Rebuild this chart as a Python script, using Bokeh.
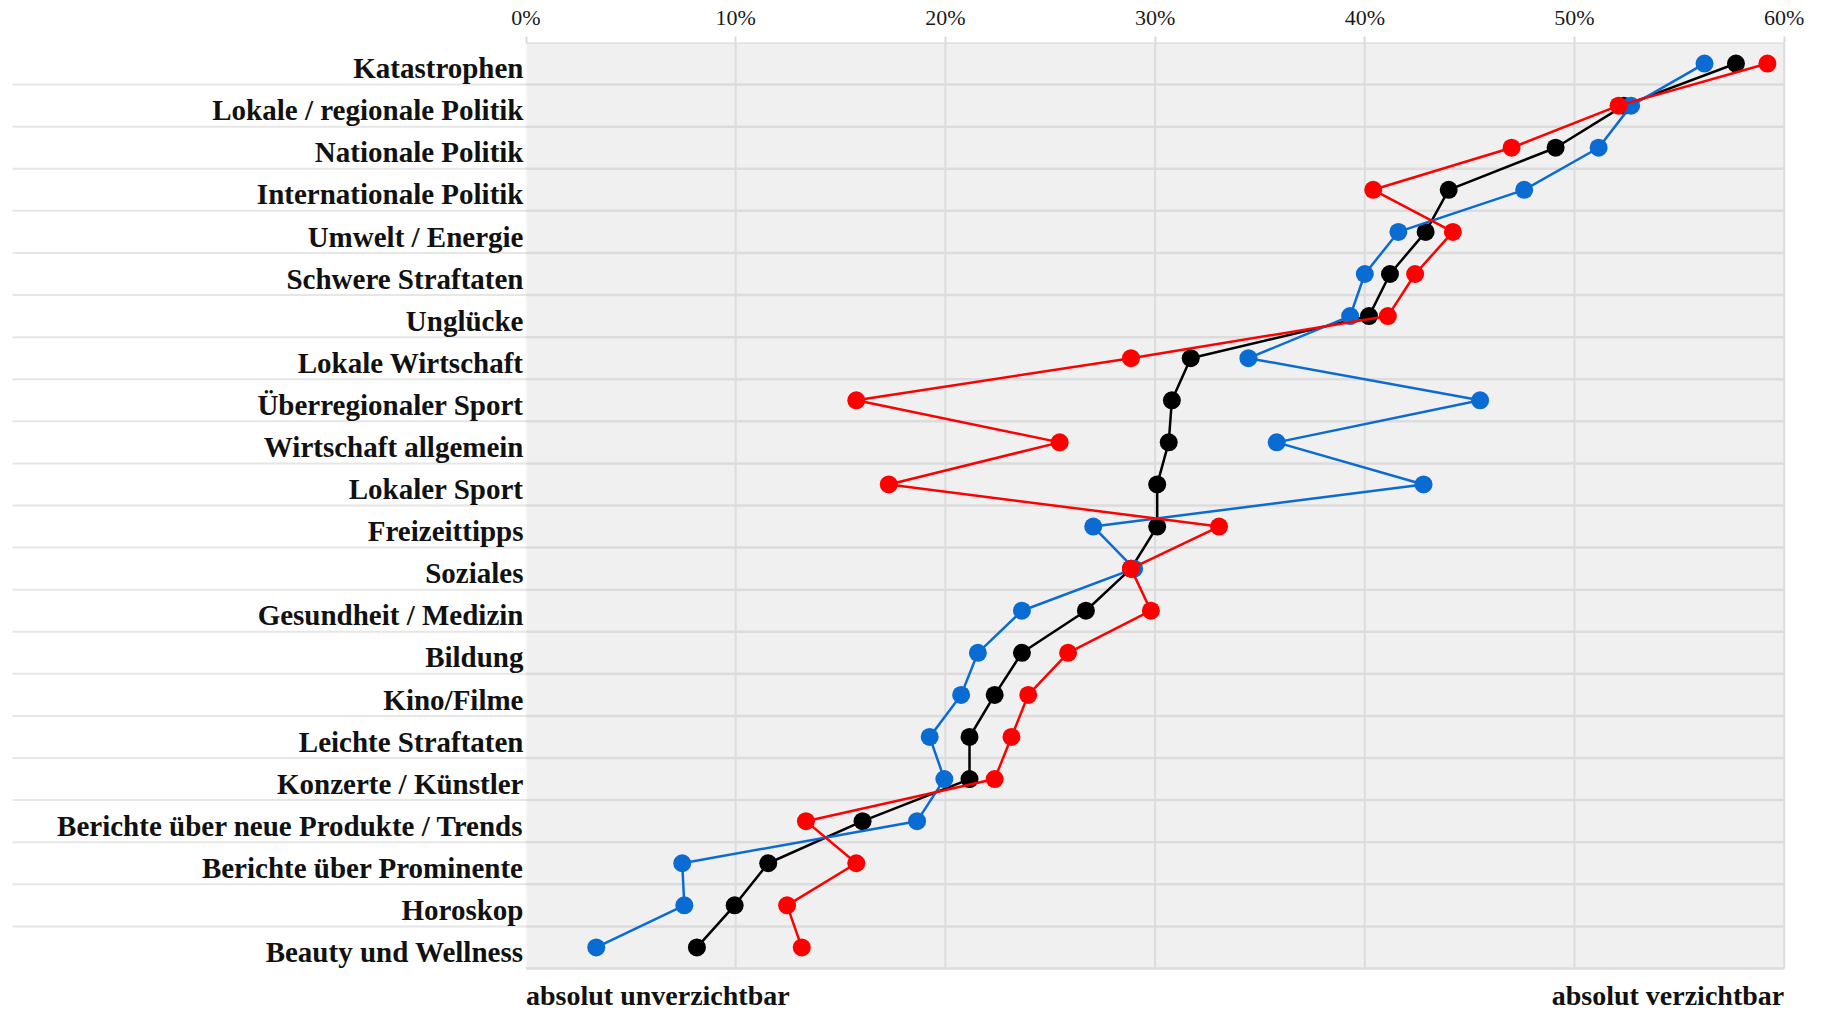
from bokeh.plotting import figure
from bokeh.models import Range1d, FixedTicker
from bokeh.core.properties import value
from bokeh.embed import file_html
from bokeh.resources import INLINE

categories = [
    "Katastrophen", "Lokale / regionale Politik", "Nationale Politik",
    "Internationale Politik", "Umwelt / Energie", "Schwere Straftaten",
    "Unglücke", "Lokale Wirtschaft", "Überregionaler Sport",
    "Wirtschaft allgemein", "Lokaler Sport", "Freizeittipps", "Soziales",
    "Gesundheit / Medizin", "Bildung", "Kino/Filme", "Leichte Straftaten",
    "Konzerte / Künstler", "Berichte über neue Produkte / Trends",
    "Berichte über Prominente", "Horoskop", "Beauty und Wellness",
]
total_vals = [57.7, 52.35, 49.1, 44.0, 42.9, 41.2, 40.2, 31.7, 30.8, 30.65,
              30.1, 30.1, 28.85, 26.7, 23.65, 22.35, 21.15, 21.15, 16.05,
              11.55, 9.95, 8.15]
blue_vals = [56.2, 52.7, 51.15, 47.6, 41.6, 40.0, 39.3, 34.45, 45.5, 35.8,
             42.8, 27.05, 29.0, 23.65, 21.55, 20.75, 19.25, 19.95, 18.65,
             7.45, 7.55, 3.35]
red_vals = [59.2, 52.1, 47.0, 40.4, 44.2, 42.4, 41.1, 28.85, 15.75, 25.45,
            17.3, 33.05, 28.85, 29.8, 25.85, 23.95, 23.15, 22.35, 13.35,
            15.75, 12.45, 13.15]
x_ticks = [0, 10, 20, 30, 40, 50, 60]
tick_labels = ["0%", "10%", "20%", "30%", "40%", "50%", "60%"]
end_labels = ["absolut unverzichtbar", "absolut verzichtbar"]

W, H = 1822, 1010
PX = 20.97            # pixels per percent
X0 = 525.5            # canvas x of 0%
TOP = 42
ROW = 42.09
x_start = -X0 / PX
x_end = x_start + W / PX
y_bottom = (H - TOP) / ROW
n = len(categories)
xmin, xmax = x_ticks[0], x_ticks[-1]

p = figure(width=W, height=H, x_range=Range1d(x_start, x_end),
           y_range=Range1d(y_bottom, 0), output_backend="svg",
           toolbar_location=None, x_axis_location="above",
           y_axis_location=None)
p.min_border_left = 0
p.min_border_right = 0
p.min_border_bottom = 0
p.min_border_top = TOP
p.outline_line_color = None
p.background_fill_color = "white"
p.border_fill_color = "white"
p.xgrid.visible = False
p.ygrid.visible = False

ax = p.xaxis[0]
ax.ticker = FixedTicker(ticks=x_ticks)
ax.major_label_overrides = {t: l for t, l in zip(x_ticks, tick_labels)}
ax.axis_line_color = None
ax.major_tick_line_color = "#dadada"
ax.major_tick_line_width = 2
ax.major_tick_out = 6
ax.major_tick_in = 0
ax.minor_tick_line_color = None
ax.major_label_standoff = 7
ax.major_label_text_font = "Liberation Serif"
ax.major_label_text_font_size = "22px"
ax.major_label_text_color = "#1a1a1a"

# plot background
p.quad(left=[xmin], right=[xmax], top=[0], bottom=[n], fill_color="#f0f0f0",
       line_color=None)

# vertical grid lines
vx = x_ticks[1:]
p.segment(x0=vx, x1=vx, y0=[0] * len(vx), y1=[n] * len(vx),
          line_color="#dcdcdc", line_width=2)
p.segment(x0=[xmin], x1=[xmin], y0=[0], y1=[n], line_color="#fafafa",
          line_width=2)

# horizontal separators in plot area
hy = list(range(n + 1))
p.segment(x0=[xmin] * len(hy), x1=[xmax] * len(hy), y0=hy, y1=hy,
          line_color="#dcdcdc", line_width=2.5)
# separators in label area
lx0 = (12 - X0) / PX
ly = list(range(1, n))
p.segment(x0=[lx0] * len(ly), x1=[xmin] * len(ly), y0=ly, y1=ly,
          line_color="#e6e6e6", line_width=2)

# category labels
ys = [i + 0.5 for i in range(n)]
p.text(x=[xmin - 0.12] * n, y=[y + 0.11 for y in ys], text=categories,
       text_align="right", text_baseline="alphabetic",
       text_font=value("Liberation Serif"), text_font_style="bold",
       text_font_size="29px", text_color="#111111")

# series
for vals, col in ((total_vals, "black"), (blue_vals, "#0a6bd3"),
                  (red_vals, "#ff0000")):
    p.line(x=vals, y=ys, line_color=col, line_width=2.5)
    p.scatter(x=vals, y=ys, size=18, fill_color=col, line_color=None)

# end labels
yb = (995 - TOP) / ROW
p.text(x=[xmin], y=[yb], text=[end_labels[0]], text_align="left",
       text_baseline="alphabetic", text_font=value("Liberation Serif"),
       text_font_style="bold", text_font_size="28px", text_color="#111111")
p.text(x=[xmax], y=[yb], text=[end_labels[1]], text_align="right",
       text_baseline="alphabetic", text_font=value("Liberation Serif"),
       text_font_style="bold", text_font_size="28px", text_color="#111111")

open("out.html", "w").write(file_html(p, INLINE))
